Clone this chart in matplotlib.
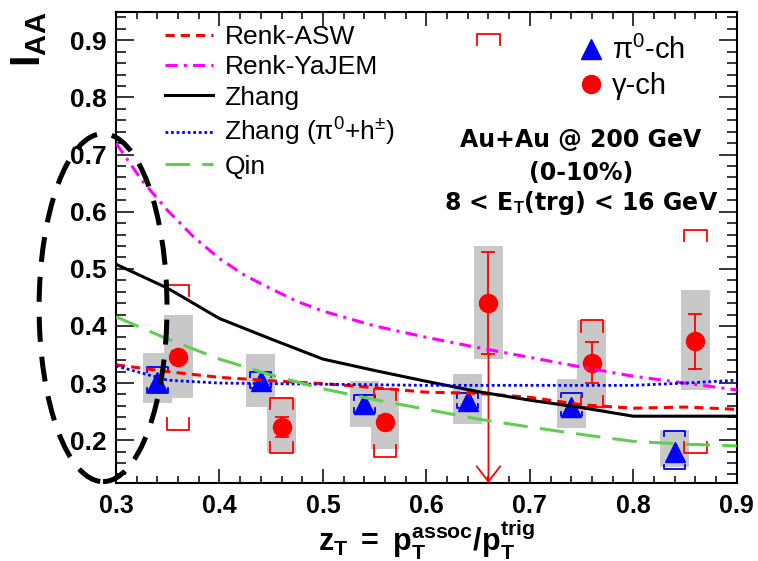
import matplotlib
matplotlib.use("Agg")
import matplotlib.pyplot as plt
from matplotlib.patches import Ellipse
from matplotlib.lines import Line2D
from matplotlib.ticker import MultipleLocator, FormatStrFormatter

plt.rcParams["font.family"] = ["Liberation Sans", "DejaVu Sans"]
plt.rcParams["mathtext.fontset"] = "custom"
plt.rcParams["mathtext.rm"] = "Liberation Sans"
plt.rcParams["mathtext.bf"] = "Liberation Sans:bold"
plt.rcParams["mathtext.it"] = "Liberation Sans:italic"

# ── Data ─────────────────────────────────────────────────────────────────────
zt_pi0 = [0.34, 0.44, 0.54, 0.64, 0.74, 0.84]
iaa_pi0 = [0.302, 0.304, 0.263, 0.268, 0.258, 0.179]
box_pi0_lo = [0.265, 0.258, 0.223, 0.228, 0.221, 0.153]
box_pi0_hi = [0.353, 0.351, 0.304, 0.316, 0.307, 0.218]
brk_pi0_lo = [0.283, 0.291, 0.248, 0.256, 0.242, 0.149]
brk_pi0_hi = [0.328, 0.319, 0.279, 0.282, 0.283, 0.216]

zt_gam = [0.36, 0.46, 0.56, 0.66, 0.76, 0.86]
iaa_gam = [0.346, 0.223, 0.232, 0.440, 0.335, 0.374]
stat_gam_lo = [0.336, 0.205, 0.222, 0.351, 0.300, 0.324]
stat_gam_hi = [0.356, 0.240, 0.242, 0.530, 0.372, 0.421]
box_gam_lo = [0.274, 0.177, 0.184, 0.342, 0.253, 0.288]
box_gam_hi = [0.419, 0.274, 0.287, 0.540, 0.410, 0.463]
brk_gam_lo = [0.218, 0.177, 0.171, 0.100, 0.258, 0.177]
brk_gam_hi = [0.472, 0.274, 0.290, 0.911, 0.410, 0.568]
upper_limit_zt = 0.66   # gamma point whose lower error runs off the axis

zt_model = [0.30, 0.35, 0.40, 0.45, 0.50, 0.55, 0.60, 0.65, 0.70, 0.75, 0.80, 0.85, 0.90]
renk_asw = [0.332, 0.320, 0.310, 0.304, 0.299, 0.292, 0.284, 0.282, 0.275, 0.262, 0.256, 0.258, 0.254]
zhang = [0.508, 0.466, 0.413, 0.377, 0.342, 0.322, 0.303, 0.285, 0.270, 0.257, 0.242, 0.242, 0.242]
zhang_h = [0.330, 0.305, 0.300, 0.299, 0.298, 0.297, 0.296, 0.296, 0.296, 0.296, 0.296, 0.300, 0.305]
qin = [0.416, 0.377, 0.342, 0.314, 0.290, 0.271, 0.254, 0.237, 0.223, 0.210, 0.198, 0.193, 0.190]

zt_yajem = [0.300, 0.325, 0.350, 0.375, 0.400, 0.425, 0.450, 0.475, 0.500,
            0.550, 0.600, 0.650, 0.700, 0.750, 0.800, 0.850, 0.900]
renk_yajem = [0.720, 0.655, 0.602, 0.556, 0.518, 0.488, 0.465, 0.443, 0.426,
              0.400, 0.380, 0.362, 0.345, 0.328, 0.312, 0.300, 0.288]

XLIM = (0.3, 0.9)
YLIM = (0.125, 0.95)
GRAY = "#c8c8c8"
GREEN = "#5fcf4f"

# ── Figure ───────────────────────────────────────────────────────────────────
fig = plt.figure(figsize=(7.58, 5.61), dpi=100)
ax = fig.add_axes([0.153, 0.139, 0.819, 0.840])
ax.set_xlim(*XLIM)
ax.set_ylim(*YLIM)


def draw_brackets(xs, lo, hi, half_w, tick, color, lw):
    for x, l, h in zip(xs, lo, hi):
        ax.plot([x - half_w, x - half_w, x + half_w, x + half_w],
                [h - tick, h, h, h - tick], color=color, lw=lw, zorder=2.5)
        ax.plot([x - half_w, x - half_w, x + half_w, x + half_w],
                [l + tick, l, l, l + tick], color=color, lw=lw, zorder=2.5)


# systematic boxes
ax.bar(zt_pi0, [h - l for l, h in zip(box_pi0_lo, box_pi0_hi)], bottom=box_pi0_lo,
       width=0.028, color=GRAY, zorder=1)
ax.bar(zt_gam, [h - l for l, h in zip(box_gam_lo, box_gam_hi)], bottom=box_gam_lo,
       width=0.028, color=GRAY, zorder=1)

# correlated-syst brackets
draw_brackets(zt_pi0, brk_pi0_lo, brk_pi0_hi, 0.010, 0.008, "blue", 1.3)
draw_brackets(zt_gam, brk_gam_lo, brk_gam_hi, 0.011, 0.02, "red", 1.3)

# points
ax.plot(zt_pi0, iaa_pi0, "^", color="blue", ms=14, zorder=3)
ax.errorbar(zt_gam, iaa_gam,
            yerr=[[v - l for v, l in zip(iaa_gam, stat_gam_lo)],
                  [h - v for v, h in zip(iaa_gam, stat_gam_hi)]],
            fmt="o", color="red", ms=13, capsize=5, elinewidth=1.3,
            capthick=1.3, zorder=3)
i_ul = zt_gam.index(upper_limit_zt)
ax.annotate("", xy=(upper_limit_zt, YLIM[0]), xytext=(upper_limit_zt, stat_gam_lo[i_ul]),
            arrowprops=dict(arrowstyle="->,head_length=1.1,head_width=0.85",
                            color="red", lw=1.3, mutation_scale=10,
                            shrinkA=0, shrinkB=0),
            zorder=3)

# model curves
l_asw, = ax.plot(zt_model, renk_asw, color="red", lw=2.2, ls=(0, (3, 2)), zorder=4)
l_yaj, = ax.plot(zt_yajem, renk_yajem, color="magenta", lw=2.2, ls=(0, (4, 2, 1, 2)), zorder=4)
l_zh, = ax.plot(zt_model, zhang, color="black", lw=2.2, zorder=4)
l_zhh, = ax.plot(zt_model, zhang_h, color="blue", lw=2.0, ls=(0, (1, 1)), zorder=4)
l_qin, = ax.plot(zt_model, qin, color=GREEN, lw=2.2, ls=(0, (8, 4)), zorder=4)

# dashed ellipse highlighting low-zT region
ax.add_patch(Ellipse((0.2875, 0.432), 0.1236, 0.609, fill=False, color="black",
                     lw=3.6, ls=(0, (5, 3)), clip_on=False, zorder=6))

# ── Axes styling ─────────────────────────────────────────────────────────────
for sp in ax.spines.values():
    sp.set_linewidth(1.5)
ax.xaxis.set_major_locator(MultipleLocator(0.1))
ax.xaxis.set_minor_locator(MultipleLocator(0.02))
ax.yaxis.set_major_locator(MultipleLocator(0.1))
ax.yaxis.set_minor_locator(MultipleLocator(0.02))
ax.xaxis.set_major_formatter(FormatStrFormatter("%.1f"))
ax.yaxis.set_major_formatter(FormatStrFormatter("%.1f"))
ax.tick_params(which="both", direction="in", top=True, right=True, width=1.1)
ax.tick_params(axis="x", which="major", length=10, pad=8)
ax.tick_params(axis="x", which="minor", length=5)
ax.tick_params(axis="y", which="major", length=13, pad=7)
ax.tick_params(axis="y", which="minor", length=7)
for lab in ax.get_xticklabels():
    lab.set_fontweight("bold")
    lab.set_fontsize(18)
for lab in ax.get_yticklabels():
    lab.set_fontweight("bold")
    lab.set_fontsize(19)

ax.set_xlabel(r"$\mathbf{z_T\ =\ p_T^{assoc}/p_T^{trig}}$", fontsize=22, labelpad=0)
ax.text(-0.14, 1.0, r"$\mathbf{I_{AA}}$", rotation=90, ha="center", va="top",
        fontsize=30, transform=ax.transAxes)

# ── Legends ──────────────────────────────────────────────────────────────────
leg1 = ax.legend([l_asw, l_yaj, l_zh, l_zhh, l_qin],
                 ["Renk-ASW", "Renk-YaJEM", "Zhang", "Zhang (π$^0$+h$^{\\pm}$)", "Qin"],
                 loc="upper left", bbox_to_anchor=(0.079, 0.972), frameon=False,
                 fontsize=19, handlelength=1.8, handletextpad=0.45,
                 labelspacing=0.24, borderpad=0, borderaxespad=0)
ax.add_artist(leg1)

h_pi0 = Line2D([], [], marker="^", color="blue", ls="none", ms=14)
h_gam = Line2D([], [], marker="o", color="red", ls="none", ms=13)
ax.legend([h_pi0, h_gam], ["π$^0$-ch", "γ-ch"],
          loc="upper left", bbox_to_anchor=(0.742, 0.948), frameon=False,
          fontsize=21, handlelength=1.0, handletextpad=0.2,
          labelspacing=0.22, borderpad=0, borderaxespad=0)

# ── Annotation ───────────────────────────────────────────────────────────────
txt_kw = dict(ha="center", va="center", fontsize=17, fontweight="bold",
              family="DejaVu Sans", transform=ax.transAxes)
ax.text(0.749, 0.728, "Au+Au @ 200 GeV", **txt_kw)
ax.text(0.749, 0.657, "(0-10%)", **txt_kw)
ax.text(0.749, 0.595, r"8 < E$_\mathbf{T}$(trg) < 16 GeV", **txt_kw)

fig.savefig("out.png", dpi=100, facecolor="white")
